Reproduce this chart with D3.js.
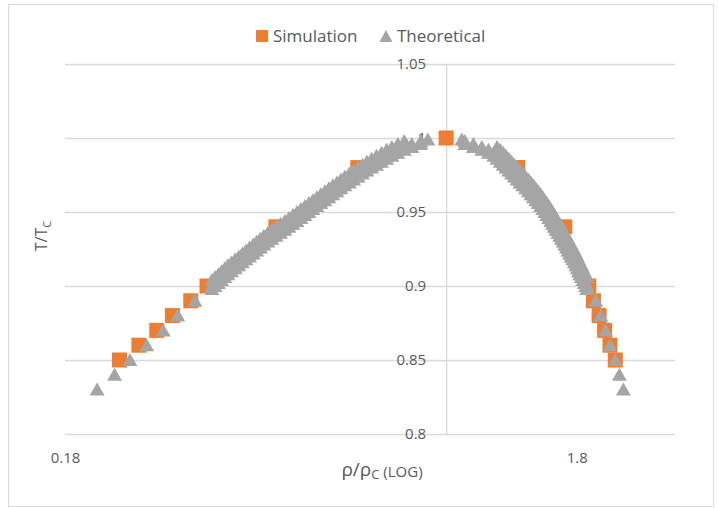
<!DOCTYPE html>
<html>
<head>
<meta charset="utf-8">
<script src="https://cdn.jsdelivr.net/npm/d3@7"></script>
<style>
  body { margin: 0; background: #fff; }
  text { font-family: "Open Sans", sans-serif; fill: #595959; }
</style>
</head>
<body>
<div id="chart-container"></div>
<script>
// Simulation points (density / critical density, T / Tc)
const simRho = [0.230, 0.251, 0.272, 0.292, 0.317, 0.341, 0.465, 0.672, 1.0,
                1.38, 1.705, 1.90, 1.94, 1.99, 2.04, 2.09, 2.14];
const simT   = [0.85, 0.86, 0.87, 0.88, 0.89, 0.90, 0.94, 0.98, 1.0,
                0.98, 0.94, 0.90, 0.89, 0.88, 0.87, 0.86, 0.85];

// Theoretical curve - vapour side, sparse part
const vapLowRho = [0.208, 0.225, 0.241, 0.260, 0.280, 0.299, 0.323];
const vapLowT   = [0.83, 0.84, 0.85, 0.86, 0.87, 0.88, 0.89];

// vapour side, dense part
const vapRho = [0.3486, 0.3537, 0.3588, 0.3640, 0.3693, 0.3746, 0.3807, 0.3869, 0.3933, 0.3997,
  0.4062, 0.4128, 0.4196, 0.4264, 0.4334, 0.4404, 0.4484, 0.4566, 0.4653, 0.4746,
  0.4841, 0.4928, 0.5018, 0.5109, 0.5202, 0.5296, 0.5392, 0.5490, 0.5590, 0.5691,
  0.5794, 0.5900, 0.6007, 0.6116, 0.6227, 0.6340, 0.6466, 0.6596, 0.6728, 0.6862,
  0.6999, 0.7152, 0.7308, 0.7474, 0.7651, 0.7832, 0.8046, 0.8285, 0.8569, 0.8923, 0.9208];
const vapT = [0.900, 0.902, 0.904, 0.906, 0.908, 0.910, 0.912, 0.914, 0.916, 0.918,
  0.920, 0.922, 0.924, 0.926, 0.928, 0.930, 0.932, 0.934, 0.936, 0.938,
  0.940, 0.942, 0.944, 0.946, 0.948, 0.950, 0.952, 0.954, 0.956, 0.958,
  0.960, 0.962, 0.964, 0.966, 0.968, 0.970, 0.972, 0.974, 0.976, 0.978,
  0.980, 0.982, 0.984, 0.986, 0.988, 0.990, 0.992, 0.994, 0.996, 0.998, 0.999];
// the band is wide: upper and lower edges of it
const vapUpperT = [0.904, 0.906, 0.908, 0.910, 0.912, 0.914, 0.916, 0.918, 0.920, 0.922,
  0.924, 0.926, 0.928, 0.930, 0.932, 0.934, 0.936, 0.938, 0.940, 0.942,
  0.944, 0.946, 0.948, 0.950, 0.952, 0.954, 0.956, 0.958, 0.960, 0.962,
  0.964, 0.966, 0.968, 0.970, 0.972, 0.974, 0.976, 0.978, 0.980, 0.982,
  0.984, 0.986, 0.988, 0.990, 0.992, 0.994, 0.996, 0.998];
const vapLowerT = [0.898, 0.900, 0.902, 0.904, 0.906, 0.908, 0.910, 0.912, 0.914, 0.916,
  0.918, 0.920, 0.922, 0.924, 0.926, 0.928, 0.930, 0.932, 0.934, 0.936,
  0.938, 0.940, 0.942, 0.944, 0.946, 0.948, 0.950, 0.952, 0.954, 0.956,
  0.958, 0.960, 0.962, 0.964, 0.966, 0.968, 0.970, 0.972, 0.974, 0.976,
  0.978, 0.980, 0.982, 0.984, 0.986, 0.988, 0.990, 0.992, 0.994, 0.996];

// liquid side, dense part
const liqRho = [1.0731, 1.0877, 1.1301, 1.1741, 1.2100, 1.2392, 1.2571, 1.2754, 1.2927, 1.3091,
  1.3257, 1.3425, 1.3595, 1.3767, 1.3942, 1.4118, 1.4297, 1.4478, 1.4649, 1.4807,
  1.4968, 1.5130, 1.5295, 1.5447, 1.5586, 1.5727, 1.5869, 1.6012, 1.6143, 1.6259,
  1.6377, 1.6525, 1.6674, 1.6809, 1.6931, 1.7053, 1.7176, 1.7300, 1.7425, 1.7551,
  1.7678, 1.7805, 1.7934, 1.8047, 1.8145, 1.8243, 1.8375, 1.8507, 1.8624, 1.8725, 1.8827];
const liqT = [0.999, 0.998, 0.996, 0.994, 0.992, 0.990, 0.988, 0.986, 0.984, 0.982,
  0.980, 0.978, 0.976, 0.974, 0.972, 0.970, 0.968, 0.966, 0.964, 0.962,
  0.960, 0.958, 0.956, 0.954, 0.952, 0.950, 0.948, 0.946, 0.944, 0.942,
  0.940, 0.938, 0.936, 0.934, 0.932, 0.930, 0.928, 0.926, 0.924, 0.922,
  0.920, 0.918, 0.916, 0.914, 0.912, 0.910, 0.908, 0.906, 0.904, 0.902, 0.900];
const liqUpperT = [0.994, 0.992, 0.990, 0.988, 0.986, 0.984, 0.982, 0.980,
  0.978, 0.976, 0.974, 0.972, 0.970, 0.968, 0.966, 0.964, 0.962, 0.960,
  0.958, 0.956, 0.954, 0.952, 0.950, 0.948, 0.946, 0.944, 0.942, 0.940,
  0.938, 0.936, 0.934, 0.932, 0.930, 0.928, 0.926, 0.924, 0.922, 0.920,
  0.918, 0.916, 0.914, 0.912, 0.910, 0.908, 0.906];
const liqLowerT = [0.996, 0.994, 0.992, 0.990, 0.988, 0.986, 0.984, 0.982, 0.980, 0.978,
  0.976, 0.974, 0.972, 0.970, 0.968, 0.966, 0.964, 0.962, 0.960, 0.958,
  0.956, 0.954, 0.952, 0.950, 0.948, 0.946, 0.944, 0.942, 0.940, 0.938,
  0.936, 0.934, 0.932, 0.930, 0.928, 0.926, 0.924, 0.922, 0.920, 0.918,
  0.916, 0.914, 0.912, 0.910, 0.908, 0.906, 0.904, 0.902, 0.900, 0.898];

// liquid side, sparse part
const liqLowRho = [1.96, 2.005, 2.05, 2.09, 2.14, 2.18, 2.22];
const liqLowT   = [0.89, 0.88, 0.87, 0.86, 0.85, 0.84, 0.83];

const xTicks = [0.18, 1.8];
const yTicks = [0.8, 0.85, 0.9, 0.95, 1, 1.05];

const pair = (rs, ts) => ts.map((t, i) => ({rho: rs[i], t: t}));

const simulation = pair(simRho, simT);
const theoretical = [].concat(
  pair(vapLowRho, vapLowT),
  pair(vapRho, vapUpperT),
  pair(vapRho, vapLowerT),
  pair(vapRho, vapT),
  pair(liqRho.slice(6), liqUpperT),
  pair(liqRho.slice(1), liqLowerT),
  pair(liqRho, liqT),
  pair(liqLowRho, liqLowT)
);

const svgWidth = 719, svgHeight = 508;
const plot = {left: 65, right: 675, top: 64, bottom: 434};

const svg = d3.select('#chart-container')
  .append('svg')
  .attr('width', svgWidth)
  .attr('height', svgHeight);

// chart area border
svg.append('rect')
  .attr('x', 8.5).attr('y', 4.5)
  .attr('width', 705).attr('height', 502)
  .attr('fill', 'none')
  .attr('stroke', '#d9d9d9');

const xScale = d3.scaleLog()
  .domain([0.18, 2.8])
  .range([plot.left, plot.right]);

const yScale = d3.scaleLinear()
  .domain([0.8, 1.05])
  .range([plot.bottom, plot.top]);

// horizontal gridlines
const grid = svg.append('g')
  .attr('transform', `translate(${plot.right},0)`)
  .call(d3.axisLeft(yScale).tickValues(yTicks).tickSize(plot.right - plot.left).tickFormat(''));
grid.select('.domain').remove();
grid.selectAll('line').attr('stroke', '#d9d9d9').attr('stroke-width', 1.3);

// vertical axis crossing at rho = 1
const yAxis = svg.append('g')
  .attr('transform', `translate(${xScale(1)},0)`)
  .call(d3.axisLeft(yScale).tickValues(yTicks).tickSize(0).tickPadding(20)
    .tickFormat(d => d3.format('~g')(d)));
yAxis.select('.domain').attr('stroke', '#d9d9d9').attr('stroke-width', 1.3);
yAxis.selectAll('text')
  .attr('font-size', 15)
  .attr('font-family', '"Open Sans", sans-serif')
  .style('fill', '#595959');

// horizontal axis labels
const xAxis = svg.append('g')
  .attr('transform', `translate(0,${plot.bottom})`)
  .call(d3.axisBottom(xScale).tickValues(xTicks).tickSize(0).tickPadding(18)
    .tickFormat(d => d3.format('~g')(d)));
xAxis.select('.domain').remove();
xAxis.selectAll('text')
  .attr('font-size', 15)
  .attr('font-family', '"Open Sans", sans-serif')
  .style('fill', '#595959');

// simulation squares
const sq = 15;
svg.append('g').selectAll('rect')
  .data(simulation)
  .enter()
  .append('rect')
  .attr('x', d => xScale(d.rho) - sq / 2)
  .attr('y', d => yScale(d.t) - sq / 2)
  .attr('width', sq)
  .attr('height', sq)
  .attr('fill', '#ed7d31');

// theoretical triangles
const tri = 'M0,-7L7.5,6L-7.5,6Z';
svg.append('g').selectAll('path')
  .data(theoretical)
  .enter()
  .append('path')
  .attr('d', tri)
  .attr('transform', d => `translate(${xScale(d.rho)},${yScale(d.t)})`)
  .attr('fill', '#a5a5a5');

// legend
svg.append('rect')
  .attr('x', 256).attr('y', 30)
  .attr('width', 12).attr('height', 12)
  .attr('fill', '#ed7d31');
svg.append('text')
  .attr('x', 273).attr('y', 41.5)
  .attr('font-size', 17)
  .text('Simulation');
svg.append('path')
  .attr('d', 'M0,-6L6.5,6L-6.5,6Z')
  .attr('transform', 'translate(386,36)')
  .attr('fill', '#a5a5a5');
svg.append('text')
  .attr('x', 397).attr('y', 41.5)
  .attr('font-size', 17)
  .text('Theoretical');

// axis titles
const yTitle = svg.append('text')
  .attr('transform', 'translate(47,236) rotate(-90)')
  .attr('text-anchor', 'middle')
  .attr('font-size', 16);
yTitle.append('tspan').text('T/T');
yTitle.append('tspan').attr('font-size', 11).attr('dy', 4).text('C');

const xTitle = svg.append('text')
  .attr('x', 382).attr('y', 476)
  .attr('text-anchor', 'middle')
  .attr('font-size', 19);
xTitle.append('tspan').text('ρ/ρ');
xTitle.append('tspan').attr('font-size', 13).attr('dy', 3).text('C');
xTitle.append('tspan').attr('font-size', 15).attr('dy', -2).text(' (LOG)');
</script>
</body>
</html>
